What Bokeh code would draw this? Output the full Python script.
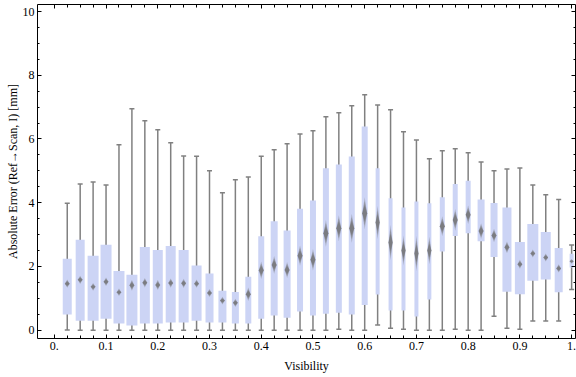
from bokeh.plotting import figure
from bokeh.models import Range1d, FixedTicker, LinearAxis, ColumnDataSource
from bokeh.embed import file_html
from bokeh.resources import INLINE

# ---------------- data ----------------
visibility = [0.025, 0.05, 0.075, 0.1, 0.125, 0.15, 0.175, 0.2, 0.225, 0.25,
              0.275, 0.3, 0.325, 0.35, 0.375, 0.4, 0.425, 0.45, 0.475, 0.5,
              0.525, 0.55, 0.575, 0.6, 0.625, 0.65, 0.675, 0.7, 0.725, 0.75,
              0.775, 0.8, 0.825, 0.85, 0.875, 0.9, 0.925, 0.95, 0.975, 1.0]
whisker_low = [0.01, 0.0, 0.0, 0.0, 0.0, 0.0, 0.0, 0.0, 0.0, 0.0,
               0.0, 0.0, 0.0, 0.0, 0.0, 0.0, 0.0, 0.0, 0.0, 0.0,
               0.0, 0.03, 0.0, 0.0, 0.16, 0.06, 0.03, 0.0, 0.0, 0.0,
               0.03, 0.0, 0.0, 0.44, 0.06, 0.03, 0.29, 0.29, 0.29, 1.28]
quartile1 = [0.49, 0.30, 0.30, 0.36, 0.21, 0.15, 0.21, 0.21, 0.24, 0.24,
             0.30, 0.24, 0.24, 0.21, 0.21, 0.36, 0.46, 0.39, 0.59, 0.46,
             0.52, 0.55, 0.49, 0.79, 1.12, 0.62, 0.62, 0.43, 0.96, 2.47,
             2.96, 3.04, 2.79, 2.30, 1.21, 1.13, 1.55, 1.59, 1.19, 1.97]
median = [1.46, 1.58, 1.36, 1.52, 1.19, 1.41, 1.49, 1.42, 1.48, 1.47,
          1.46, 1.17, 0.93, 0.86, 1.13, 1.88, 2.05, 1.89, 2.34, 2.21,
          3.04, 3.20, 3.20, 3.67, 3.38, 2.75, 2.50, 2.41, 2.50, 3.26,
          3.46, 3.62, 3.11, 2.97, 2.60, 2.07, 2.41, 2.28, 1.94, 2.16]
quartile3 = [2.24, 2.84, 2.34, 2.68, 1.86, 1.74, 2.61, 2.52, 2.64, 2.52,
             2.03, 1.78, 1.24, 1.20, 1.68, 2.95, 3.42, 3.13, 3.81, 4.07,
             5.08, 5.20, 5.45, 6.39, 5.08, 4.14, 3.85, 4.04, 3.98, 4.17,
             4.59, 4.69, 4.10, 3.99, 3.85, 2.77, 3.33, 3.08, 2.58, 2.40]
whisker_high = [3.98, 4.59, 4.65, 4.56, 5.82, 6.95, 6.57, 6.29, 5.88, 5.47,
                5.46, 5.00, 4.31, 4.72, 4.81, 5.46, 5.66, 5.85, 6.16, 6.26,
                6.70, 6.82, 7.04, 7.39, 7.07, 6.92, 6.23, 5.97, 5.38, 5.63,
                5.69, 5.57, 5.28, 5.00, 5.06, 5.09, 4.56, 4.25, 4.10, 2.67]
# median notch (confidence band) full height, in mm
notch_span = [0.26, 0.26, 0.24, 0.27, 0.23, 0.35, 0.30, 0.32, 0.29, 0.29,
              0.26, 0.25, 0.24, 0.26, 0.42, 0.55, 0.55, 0.50, 0.63, 0.68,
              0.84, 0.81, 0.91, 1.00, 1.03, 1.11, 0.94, 1.10, 0.86, 0.63,
              0.68, 0.58, 0.49, 0.42, 0.37, 0.28, 0.25, 0.25, 0.26, 0.15]
# box widths (screen px), as drawn in the reference
box_width_px = [9, 9, 11, 11, 11, 11, 10, 10, 10, 10,
                10, 8, 8, 7, 6, 6, 7, 7, 6, 6,
                6, 6, 6, 6, 4, 4, 4, 4, 4, 5,
                5, 5, 7, 7, 9, 10, 11, 10, 8, 4]

x_ticks = [0.0, 0.1, 0.2, 0.3, 0.4, 0.5, 0.6, 0.7, 0.8, 0.9, 1.0]
x_tick_labels = ["0.", "0.1", "0.2", "0.3", "0.4", "0.5", "0.6", "0.7", "0.8", "0.9", "1."]
y_ticks = [0, 2, 4, 6, 8, 10]

# ---------------- layout ----------------
X0, X1 = -0.0325, 1.0075
Y0, Y1 = -0.26, 10.22
FRAME_W = 538
PX = (X1 - X0) / FRAME_W          # data units per screen pixel in x

BOX_COLOR = "#CCD4F5"
WHISKER_COLOR = "#808080"
NOTCH_COLOR = "#6E6E6E"
FONT = "Liberation Serif"

p = figure(width=576, height=377, x_range=Range1d(X0, X1), y_range=Range1d(Y0, Y1),
           output_backend="svg", toolbar_location=None,
           min_border_left=37, min_border_right=1, min_border_top=4, min_border_bottom=39)
p.grid.visible = False
p.outline_line_color = None
p.background_fill_color = "white"

x_minor = [round(k * 0.025, 4) for k in range(41)]
y_minor = [k * 0.5 for k in range(21)]


def style_axis(ax, labels=True):
    ax.axis_line_color = "black"
    ax.axis_line_width = 1
    ax.major_tick_in = 4
    ax.major_tick_out = 0
    ax.minor_tick_in = 2
    ax.minor_tick_out = 0
    ax.major_tick_line_color = "black"
    ax.minor_tick_line_color = "black"
    ax.major_label_text_font = FONT
    ax.major_label_text_color = "black"
    if labels:
        ax.major_label_text_font_size = "12px"
        ax.major_label_standoff = 3
    else:
        ax.major_label_text_font_size = "0px"
        ax.major_label_standoff = 0
        ax.major_label_text_alpha = 0


xax = p.xaxis[0]
xax.ticker = FixedTicker(ticks=x_ticks, minor_ticks=x_minor)
xax.major_label_overrides = {t: s for t, s in zip(x_ticks, x_tick_labels)}
style_axis(xax)
xax.minor_tick_in = 3
xax.axis_label = "Visibility"
xax.axis_label_text_font = FONT
xax.axis_label_text_font_size = "12px"
xax.axis_label_text_font_style = "normal"
xax.axis_label_text_color = "black"
xax.axis_label_standoff = 6

yax = p.yaxis[0]
yax.ticker = FixedTicker(ticks=y_ticks, minor_ticks=y_minor)
style_axis(yax)
yax.axis_label = "Absolute Error (Ref\u2192Scan, I) [mm]"
yax.axis_label_text_font = FONT
yax.axis_label_text_font_size = "12px"
yax.axis_label_text_font_style = "normal"
yax.axis_label_text_color = "black"
yax.axis_label_standoff = 0

top = LinearAxis(ticker=FixedTicker(ticks=x_ticks, minor_ticks=x_minor))
style_axis(top, labels=False)
top.minor_tick_in = 3
top.major_label_overrides = {t: "" for t in x_ticks}
p.add_layout(top, "above")

right = LinearAxis(ticker=FixedTicker(ticks=y_ticks, minor_ticks=y_minor))
style_axis(right, labels=False)
right.major_label_overrides = {t: "" for t in y_ticks}
p.add_layout(right, "right")

# ---------------- marks ----------------
cap = 2.5 * PX
src = ColumnDataSource(dict(
    x=visibility, lo=whisker_low, q1=quartile1, med=median, q3=quartile3, hi=whisker_high,
    w=[b * PX for b in box_width_px],
    x0=[v - cap for v in visibility], x1=[v + cap for v in visibility],
))

p.segment(x0="x", y0="lo", x1="x", y1="hi", source=src, line_color=WHISKER_COLOR, line_width=1.5)
p.segment(x0="x0", y0="hi", x1="x1", y1="hi", source=src, line_color=WHISKER_COLOR, line_width=1.5)
p.segment(x0="x0", y0="lo", x1="x1", y1="lo", source=src, line_color=WHISKER_COLOR, line_width=1.5)
p.vbar(x="x", width="w", bottom="q1", top="q3", source=src,
       fill_color=BOX_COLOR, line_color=None)

# notch diamonds (outer faint, inner darker -> soft ends as in the reference)
for scale, alpha in ((1.0, 0.35), (0.75, 0.45), (0.5, 0.6)):
    xs, ys = [], []
    for v, m, s, b in zip(visibility, median, notch_span, box_width_px):
        hw = min(2.4, b / 2.0) * PX
        hh = s / 2.0 * scale
        xs.append([v - hw, v, v + hw, v])
        ys.append([m, m + hh, m, m - hh])
    p.patches(xs, ys, fill_color=NOTCH_COLOR, fill_alpha=alpha, line_color=None)

open("out.html", "w").write(file_html(p, INLINE))
